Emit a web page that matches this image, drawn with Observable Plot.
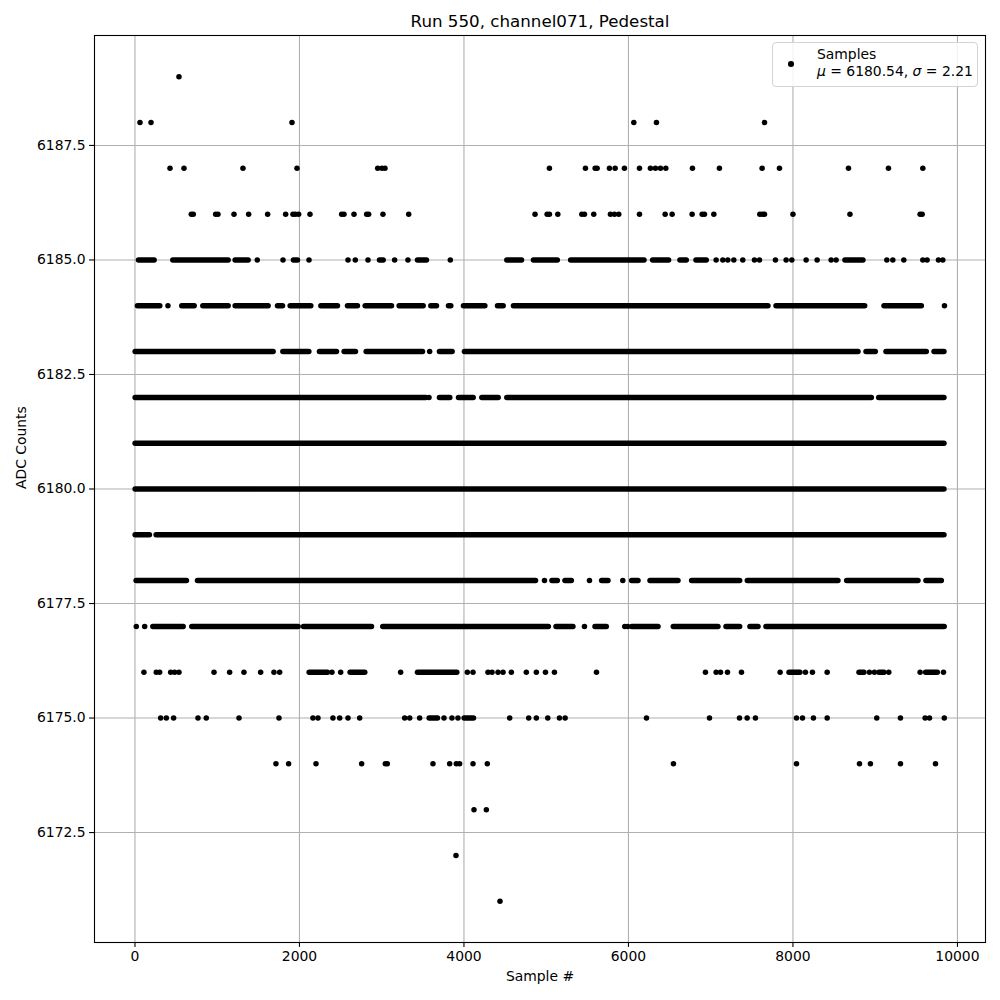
<!DOCTYPE html>
<html><head><meta charset="utf-8">
<script src="https://cdn.jsdelivr.net/npm/d3@7"></script>
<script src="https://cdn.jsdelivr.net/npm/@observablehq/plot@0.6"></script>
<style>
body{margin:0;background:#fff;font-family:"DejaVu Sans",sans-serif}
#wrap{position:relative;width:1000px;height:1000px}
#legend{position:absolute;left:772px;top:42px;width:206px;height:45px;border:1px solid #d3d3d3;border-radius:4px;background:rgba(255,255,255,0.85);box-sizing:border-box;font-family:"DejaVu Sans";font-size:13.9px;color:#000}
#legend .mk{position:absolute;left:15px;top:18px;width:5.5px;height:5.5px;border-radius:50%;background:#000}
#legend .tx{position:absolute;left:44px;top:3px;line-height:17px;white-space:nowrap}
</style>
</head><body>
<div id="wrap"></div>
<script>
// ---- tick labels ----
const xTicks = [0, 2000, 4000, 6000, 8000, 10000];
const yTicks = [6172.5, 6175, 6177.5, 6180, 6182.5, 6185, 6187.5];

// ---- ADC levels (integer counts) ----
const levels = [6189, 6188, 6187, 6186, 6185, 6184, 6183, 6182, 6181, 6180, 6179, 6178, 6177, 6176, 6175, 6174, 6173, 6172, 6171];

// ---- isolated samples (sample # at each level) ----
const s6189 = [535];
const s6188 = [61, 195, 1909, 6065, 6340, 7654];
const s6187 = [426, 596, 1313, 1970, 2951, 3003, 3040, 5039, 5477, 5595, 5619, 5769, 5838, 5951, 6134, 6267, 6328, 6389, 6454, 6778, 7106, 7625, 7836, 8675, 9161, 9579];
const s6186 = [685, 709, 981, 1009, 1204, 1382, 1613, 1832, 1921, 1950, 1990, 2128, 2513, 2541, 2663, 2817, 2841, 3015, 3328, 4864, 5011, 5039, 5141, 5433, 5465, 5578, 5781, 5830, 5882, 6134, 6446, 6531, 6774, 6896, 6924, 7038, 7597, 7629, 7654, 8000, 8693, 9546, 9571];
const s6185 = [1487, 1800, 2116, 2590, 2679, 2833, 3157, 3319, 3834, 7066, 7147, 7208, 7281, 7390, 7532, 7593, 7787, 7917, 7986, 8160, 8294, 8464, 8525, 9141, 9214, 9348, 9579, 9631, 9769, 9822];
const s6184 = [401, 9842];
const s6183 = [3583];
const s6182 = [3575];
const s6181 = [];
const s6180 = [];
const s6179 = [];
const s6178 = [4979, 5526, 5931];
const s6177 = [16, 118, 5465, 5955, 5990];
const s6176 = [109, 259, 300, 434, 482, 535, 961, 1151, 1325, 1528, 1690, 1759, 2395, 2501, 3230, 4041, 4110, 4292, 4341, 4414, 4475, 4576, 4758, 4880, 4991, 5100, 5611, 6936, 7066, 7119, 7204, 7374, 7844, 8152, 8237, 8416, 8930, 8991, 9165, 9546, 9830];
const s6175 = [312, 381, 470, 766, 867, 1265, 1751, 2164, 2225, 2407, 2489, 2590, 2732, 3279, 3340, 3461, 3757, 3854, 3927, 4556, 4787, 4880, 5019, 5161, 5230, 6219, 6985, 7350, 7443, 7544, 8043, 8116, 8249, 8416, 9019, 9307, 9607, 9660, 9840];
const s6174 = [1714, 1868, 2201, 2756, 3044, 3068, 3623, 3826, 3907, 3947, 4110, 4284, 6547, 8043, 8809, 8942, 9307, 9733];
const s6173 = [4122, 4272];
const s6172 = [3903];
const s6171 = [4438];

// ---- stretches of consecutive samples at one level: [first sample #, last sample #] ----
const r6189 = [], r6188 = [], r6187 = [], r6186 = [];
const r6185 = [[49,239],[466,1139],[1224,1382],[1933,1982],[2979,3024],[3441,3550],[4527,4706],[4851,5141],[5303,6195],[6300,6494],[6632,6709],[6827,6952],[8638,8857]];
const r6184 = [[36,308],[575,726],[831,1139],[1224,1625],[1739,1800],[1893,2144],[2266,2468],[2590,2711],[2805,3125],[3218,3510],[3603,3672],[3818,3846],[4000,4260],[4414,4483],[4608,7702],[7800,8878],[9113,9567]];
const r6183 = [[8,1686],[1804,2120],[2249,2456],[2549,2687],[2817,3502],[3708,3862],[4012,8797],[8894,9007],[9137,9627],[9721,9842]];
const r6182 = [[8,3542],[3708,3834],[3940,4118],[4223,4422],[4527,8959],[9048,9842]];
const r6181 = [[8,9842]];
const r6180 = [[8,9842]];
const r6179 = [[8,182],[263,9842]];
const r6178 = [[20,632],[766,4876],[5076,5141],[5234,5311],[5680,5757],[6045,6122],[6268,6608],[6774,7358],[7451,8553],[8659,9526],[9623,9810]];
const r6177 = [[223,592],[697,1990],[2055,2882],[3019,5032],[5125,5331],[5599,5737],[6045,6365],[6551,7094],[7192,7358],[7483,7581],[7678,9845]];
const r6176 = [[2124,2347],[2622,2800],[3441,3919],[7958,8091],[8809,8869],[9052,9113],[9619,9761]];
const r6175 = [[3583,3684],[4008,4122]];
const r6174 = [], r6173 = [], r6172 = [], r6171 = [];

const singleLists = [s6189,s6188,s6187,s6186,s6185,s6184,s6183,s6182,s6181,s6180,s6179,s6178,s6177,s6176,s6175,s6174,s6173,s6172,s6171];
const runLists = [r6189,r6188,r6187,r6186,r6185,r6184,r6183,r6182,r6181,r6180,r6179,r6178,r6177,r6176,r6175,r6174,r6173,r6172,r6171];

const points = levels.flatMap((lv, i) => singleLists[i].map(x => ({sample: x, adc: lv})));
const runs = levels.flatMap((lv, i) => runLists[i].map(([a, b]) => ({from: a, to: b, adc: lv})));

const gridStyle = {stroke: "#b0b0b0", strokeOpacity: 1, strokeWidth: 1.1};
const chart = Plot.plot({
  width: 1000, height: 1000,
  marginLeft: 94, marginRight: 15, marginTop: 35, marginBottom: 58,
  style: {fontFamily: "DejaVu Sans", fontSize: "13.9px", color: "black", background: "white"},
  x: {domain: [-492, 10341]},
  y: {domain: [6170.1, 6189.9]},
  marks: [
    Plot.gridX(xTicks, gridStyle),
    Plot.gridY(yTicks, gridStyle),
    Plot.ruleY(runs, {y: "adc", x1: "from", x2: "to", stroke: "black", strokeWidth: 5.5, strokeLinecap: "round"}),
    Plot.dot(points, {x: "sample", y: "adc", r: 2.75, fill: "black", stroke: "none"}),
    Plot.frame({stroke: "black", strokeWidth: 1.1}),
    Plot.axisX(xTicks, {tickSize: 4.9, tickPadding: 4, tickFormat: d => String(d), label: null, fontSize: 13.9, strokeWidth: 1.1}),
    Plot.axisY(yTicks, {tickSize: 4.9, tickPadding: 4, tickFormat: d3.format(".1f"), label: null, fontSize: 13.9, strokeWidth: 1.1}),
    Plot.text(["Run 550, channel071, Pedestal"], {frameAnchor: "top", lineAnchor: "middle", dy: -14, fontSize: 16.7, fill: "black"}),
    Plot.text(["Sample #"], {frameAnchor: "bottom", lineAnchor: "middle", dy: 34, fontSize: 13.9, fill: "black"}),
    Plot.text(["ADC Counts"], {frameAnchor: "left", dx: -73, rotate: -90, fontSize: 13.9, fill: "black"})
  ]
});
const wrap = document.getElementById("wrap");
wrap.appendChild(chart);
const lg = document.createElement("div");
lg.id = "legend";
lg.innerHTML = '<div class="mk"></div><div class="tx">Samples<br><i>μ</i> = 6180.54, <i>σ</i> = 2.21</div>';
wrap.appendChild(lg);
</script>
</body></html>
